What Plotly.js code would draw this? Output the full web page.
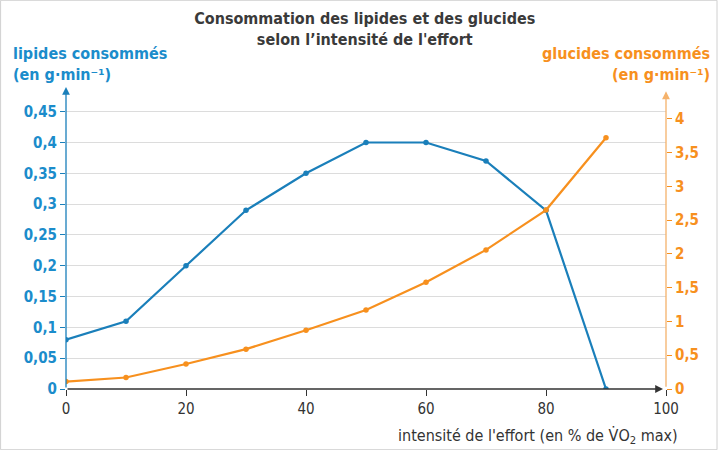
<!DOCTYPE html>
<html>
<head>
<meta charset="utf-8">
<script src="https://cdn.plot.ly/plotly-3.0.1.min.js"></script>
<style>
  html, body { margin: 0; padding: 0; background: #fff; }
  #myChart { width: 718px; height: 450px; }
</style>
</head>
<body>
<div id="myChart"></div>
<script>
// intensité de l'effort (% VO2 max)
const intensite = [0, 10, 20, 30, 40, 50, 60, 70, 80, 90];
// lipides consommés (g/min)
const lipides = [0.08, 0.11, 0.2, 0.29, 0.35, 0.4, 0.4, 0.37, 0.29, 0];
// glucides consommés (g/min)
const glucides = [0.11, 0.17, 0.37, 0.59, 0.87, 1.17, 1.58, 2.06, 2.65, 3.72];

const xTicks = [0, 20, 40, 60, 80, 100];
const lipTicks = [0, 0.05, 0.1, 0.15, 0.2, 0.25, 0.3, 0.35, 0.4, 0.45];
const gluTicks = [0, 0.5, 1, 1.5, 2, 2.5, 3, 3.5, 4];

const BLUE = '#1a7fba';
const BLUE_TXT = '#1b8ccb';
const ORANGE = '#f7901e';
const GREY = '#333333';
const FONT = '"Liberation Sans Narrow", "DejaVu Sans Condensed", Arial, sans-serif';

function make_chart() {
    const trace1 = {
        x: intensite,
        y: lipides,
        type: 'scatter',
        mode: 'lines+markers',
        name: 'lipides',
        line: { color: BLUE, width: 2.2 },
        marker: { color: BLUE, size: 5.5 },
        yaxis: 'y'
    };

    const trace2 = {
        x: intensite,
        y: glucides,
        type: 'scatter',
        mode: 'lines+markers',
        name: 'glucides',
        line: { color: ORANGE, width: 2.2 },
        marker: { color: ORANGE, size: 5.5 },
        yaxis: 'y2'
    };

    const layout = {
        width: 718,
        height: 450,
        separators: ', ',
        font: { family: FONT, color: GREY },
        title: {
            text: 'Consommation des lipides et des glucides<br>selon l\u2019intensité de l\'effort',
            font: { family: FONT, size: 16, color: '#3a3a3a', weight: 'bold' },
            x: 0.508, xanchor: 'center',
            y: 0.946, yanchor: 'top'
        },
        showlegend: false,
        paper_bgcolor: '#ffffff',
        plot_bgcolor: '#ffffff',
        margin: { l: 66, r: 52, t: 100, b: 61 },
        xaxis: {
            range: [0, 100],
            tickvals: xTicks,
            ticks: 'outside',
            ticklen: 6,
            tickcolor: GREY,
            tickfont: { family: FONT, size: 15, color: GREY },
            showgrid: false,
            zeroline: false,
            showline: false,
            fixedrange: true
        },
        yaxis: {
            range: [0, 0.469],
            tickvals: lipTicks,
            ticks: 'outside',
            ticklen: 5,
            tickcolor: BLUE,
            tickfont: { family: FONT, size: 15, color: BLUE_TXT, weight: 'bold' },
            showgrid: true,
            gridcolor: '#dcdcdc',
            gridwidth: 1,
            zeroline: false,
            showline: false,
            fixedrange: true
        },
        yaxis2: {
            range: [0, 4.28],
            tickvals: gluTicks,
            overlaying: 'y',
            side: 'right',
            ticks: 'outside',
            ticklen: 5,
            tickcolor: ORANGE,
            tickfont: { family: FONT, size: 15, color: ORANGE, weight: 'bold' },
            showgrid: false,
            zeroline: false,
            showline: false,
            fixedrange: true
        },
        annotations: [
            // left axis with arrow
            { xref: 'paper', yref: 'paper', x: 0, y: 1.045, ax: 0, ay: 302,
              showarrow: true, arrowhead: 2, arrowsize: 1.2, arrowwidth: 1.3, arrowcolor: BLUE, text: '' },
            // right axis with arrow
            { xref: 'paper', yref: 'paper', x: 1, y: 1.03, ax: 0, ay: 297,
              showarrow: true, arrowhead: 2, arrowsize: 1.2, arrowwidth: 1.3, arrowcolor: '#f5b26b', text: '' },
            // x axis with arrow
            { xref: 'paper', yref: 'paper', x: 0.995, y: 0, ax: -597, ay: 0,
              showarrow: true, arrowhead: 2, arrowsize: 1.2, arrowwidth: 1.3, arrowcolor: GREY, text: '' },
            // axis titles
            { xref: 'paper', yref: 'paper', x: -0.092, y: 1.05, xanchor: 'left', yanchor: 'bottom', showarrow: false,
              align: 'left',
              text: 'lipides consommés<br>(en g·min\u207B\u00B9)',
              font: { family: FONT, size: 16, color: BLUE_TXT, weight: 'bold' } },
            { xref: 'paper', yref: 'paper', x: 1.077, y: 1.05, xanchor: 'right', yanchor: 'bottom', showarrow: false,
              align: 'right',
              text: 'glucides consommés<br>(en g·min\u207B\u00B9)',
              font: { family: FONT, size: 16, color: ORANGE, weight: 'bold' } },
            { xref: 'paper', yref: 'paper', x: 1.023, y: -0.163, xanchor: 'right', yanchor: 'middle', showarrow: false,
              text: 'intensité de l\'effort (en % de V\u0307O<sub>2</sub> max)',
              font: { family: FONT, size: 16, color: GREY } }
        ],
        shapes: [
            { type: 'rect', xref: 'paper', yref: 'paper', x0: -0.109, x1: 1.085, y0: -0.21, y1: 1.345,
              line: { color: '#d0d0d0', width: 1 } }
        ]
    };

    return [[trace1, trace2], layout];
}

let hi = make_chart();
Plotly.newPlot('myChart', hi[0], hi[1], { displayModeBar: false, staticPlot: true });
</script>
</body>
</html>
